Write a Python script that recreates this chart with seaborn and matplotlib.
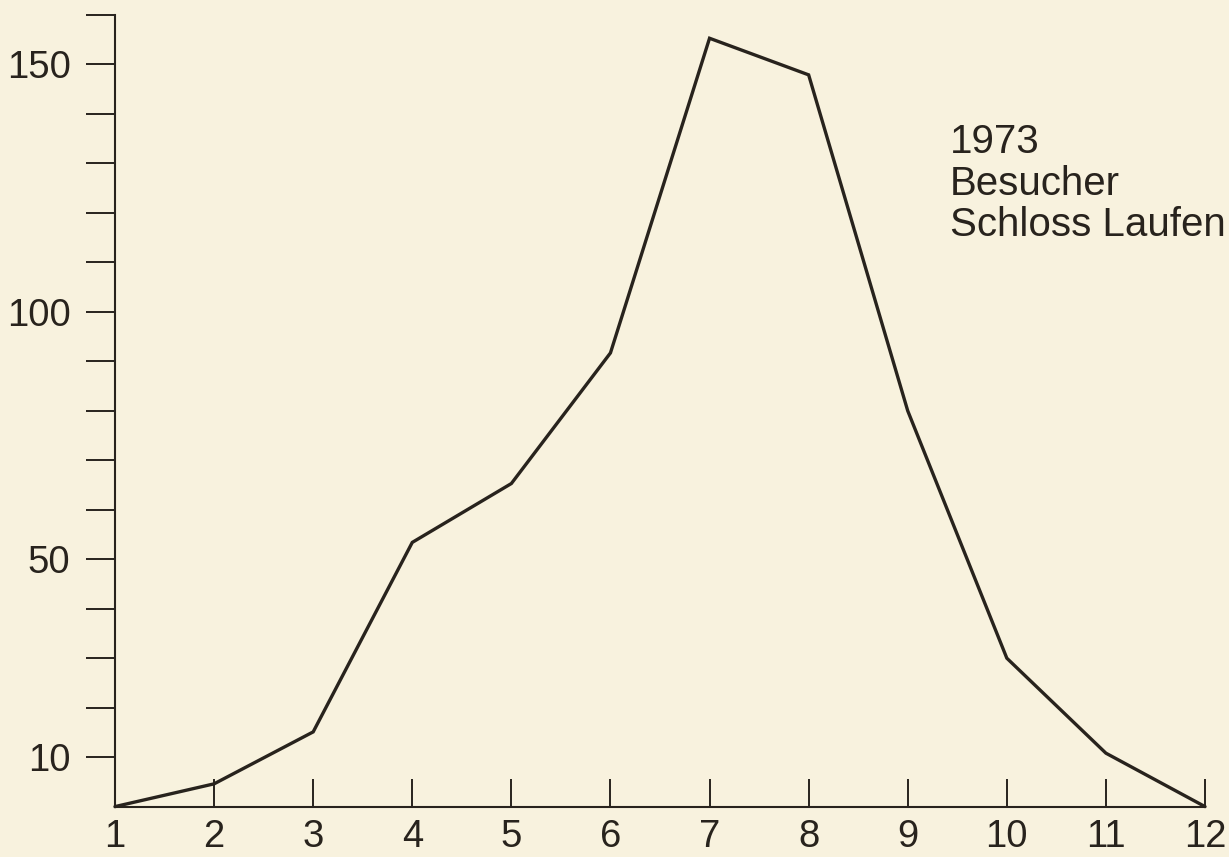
import matplotlib
matplotlib.use("Agg")
import matplotlib.pyplot as plt
import seaborn as sns
import pandas as pd

# Besucher Schloss Laufen 1973, pro Monat (in Tausend)
months = [1, 2, 3, 4, 5, 6, 7, 8, 9, 10, 11, 12]
visitors = [0, 4.6, 15.1, 53.4, 65.3, 91.7, 155.3, 147.9, 80, 30, 10.8, 0]

y_ticks = list(range(10, 161, 10))
y_labels = ["10", "", "", "", "50", "", "", "", "", "100", "", "", "", "", "150", ""]
x_labels = [str(m) for m in months]
annotation = "1973\nBesucher\nSchloss Laufen"

BG = "#f8f2de"
INK = "#28231d"

sns.set_style("ticks")
plt.rcParams['font.family'] = ['Liberation Sans', 'DejaVu Sans']

df = pd.DataFrame({'Monat': months, 'Besucher': visitors})

fig = plt.figure(figsize=(12.29, 8.57), dpi=100, facecolor=BG)
ax = fig.add_axes([115 / 1229, (857 - 806.6) / 857, (1205 - 115) / 1229, (806.6 - 15) / 857])
ax.set_facecolor(BG)

sns.lineplot(data=df, x='Monat', y='Besucher', ax=ax, color=INK, linewidth=2.4,
             solid_joinstyle='miter', clip_on=False)

ax.set_xlim(1, 12)
ax.set_ylim(0, 160)
ax.set_xticks(months)
ax.set_xticklabels(x_labels)
ax.set_yticks(y_ticks)
ax.set_yticklabels(y_labels)
ax.set_xlabel('')
ax.set_ylabel('')

for side in ['top', 'right']:
    ax.spines[side].set_visible(False)
for side in ['left', 'bottom']:
    ax.spines[side].set_color(INK)
    ax.spines[side].set_linewidth(1.5)

ax.tick_params(axis='y', direction='out', length=21, width=1.4, color=INK,
               labelsize=27.5, labelcolor=INK, pad=11)
ax.tick_params(axis='x', direction='in', length=20, width=1.4, color=INK,
               labelsize=27.5, labelcolor=INK, pad=9)

ax.text(950 / 1229, (857 - 123) / 857, annotation, transform=fig.transFigure,
        ha='left', va='top', fontsize=29, color=INK, linespacing=1.12)

fig.savefig('out.png', dpi=100, facecolor=BG)
